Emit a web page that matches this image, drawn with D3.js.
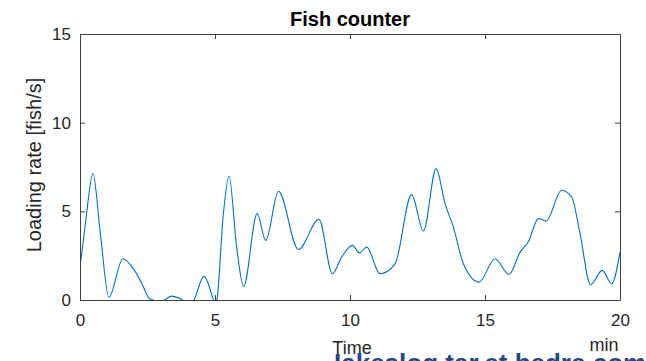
<!DOCTYPE html>
<html>
<head>
<meta charset="utf-8">
<script src="https://cdn.jsdelivr.net/npm/d3@7"></script>
<style>
  body { margin: 0; background: #fff; overflow: hidden; }
  text { font-family: "Liberation Sans", Arial, sans-serif; }
</style>
</head>
<body>
<div id="chart"></div>
<script>
// values (time in min, loading rate in fish/s)
const times = [0, 0.2, 0.48, 0.75, 1.07, 1.59, 2.02, 2.3, 2.58, 2.9, 3.15, 3.38, 3.65, 3.9, 4.05, 4.2,
  4.59, 4.93, 5.0, 5.08, 5.3, 5.52, 5.8, 6.06, 6.56, 6.88, 7.35, 8.09, 8.85, 9.35, 9.69, 10.09, 10.35,
  10.62, 11.11, 11.67, 12.28, 12.72, 13.19, 13.52, 13.83, 14.2, 14.78, 15.37, 15.89, 16.3, 16.6,
  16.98, 17.26, 17.84, 18.21, 18.52, 18.91, 19.34, 19.69, 20];
const rates = [1.85, 4.3, 7.13, 3.8, 0.16, 2.33, 1.67, 0.9, 0.07, -0.05, 0.02, 0.22, 0.12, -0.1, -0.2, -0.05,
  1.33, 0.05, -0.3, 0.1, 4.7, 6.98, 3.0, 0.76, 4.87, 3.36, 6.13, 2.85, 4.55, 1.48, 2.42, 3.08, 2.66,
  2.98, 1.48, 2.04, 5.94, 3.89, 7.41, 5.43, 4.11, 2.04, 1.01, 2.33, 1.44, 2.7, 3.27,
  4.59, 4.45, 6.19, 5.81, 3.74, 0.86, 1.67, 0.92, 2.7];
const xTicks = [0, 5, 10, 15, 20];
const yTicks = [0, 5, 10, 15];

const width = 646, height = 361;
const margin = {top: 34, right: 26, bottom: 61, left: 80};
const w = width - margin.left - margin.right;
const h = height - margin.top - margin.bottom;
const axisColor = '#404040';

const svg = d3.select('#chart').append('svg')
    .attr('width', width)
    .attr('height', height);

const g = svg.append('g')
    .attr('transform', `translate(${margin.left},${margin.top})`);

const x = d3.scaleLinear().domain([0, 20]).range([0, w]);
const y = d3.scaleLinear().domain([0, 15]).range([h, 0]);

svg.append('clipPath').attr('id', 'plotclip')
  .append('rect').attr('width', w).attr('height', h);

const data = times.map((t, i) => ({t: t, v: rates[i]}));

const line = d3.line()
    .x(d => x(d.t))
    .y(d => y(d.v))
    .curve(d3.curveMonotoneX);

g.append('path')
    .datum(data)
    .attr('clip-path', 'url(#plotclip)')
    .attr('fill', 'none')
    .attr('stroke', '#0072BD')
    .attr('stroke-width', 1.1)
    .attr('d', line);

// axes, matlab style: ticks inside on all four sides
function styleAxis(sel) {
  sel.select('.domain').attr('stroke', axisColor);
  sel.selectAll('.tick line').attr('stroke', axisColor);
  sel.selectAll('.tick text').attr('fill', '#262626').style('font-size', '17px');
}

g.append('g')
    .attr('transform', `translate(0,${h})`)
    .call(d3.axisBottom(x).tickValues(xTicks).tickSize(-5).tickSizeOuter(0).tickPadding(14))
    .call(styleAxis);

g.append('g')
    .call(d3.axisLeft(y).tickValues(yTicks).tickSize(-5).tickSizeOuter(0).tickPadding(9))
    .call(styleAxis);

g.append('g')
    .call(d3.axisTop(x).tickValues(xTicks).tickSize(-5).tickSizeOuter(0).tickFormat(''))
    .call(styleAxis);

g.append('g')
    .attr('transform', `translate(${w},0)`)
    .call(d3.axisRight(y).tickValues(yTicks).tickSize(-5).tickSizeOuter(0).tickFormat(''))
    .call(styleAxis);

// title and labels
svg.append('text')
    .attr('x', margin.left + w / 2)
    .attr('y', 26)
    .attr('text-anchor', 'middle')
    .style('font-size', '20px')
    .style('font-weight', 'bold')
    .attr('fill', '#000')
    .text('Fish counter');

svg.append('text')
    .attr('transform', `translate(41,${margin.top + h / 2 - 2}) rotate(-90)`)
    .attr('text-anchor', 'middle')
    .style('font-size', '20px')
    .attr('fill', '#262626')
    .text('Loading rate [fish/s]');

svg.append('text')
    .attr('x', margin.left + w / 2 + 2)
    .attr('y', 354)
    .attr('text-anchor', 'middle')
    .style('font-size', '18px')
    .attr('fill', '#262626')
    .text('Time');

svg.append('text')
    .attr('x', 604)
    .attr('y', 351)
    .attr('text-anchor', 'middle')
    .style('font-size', '18px')
    .attr('fill', '#262626')
    .text('min');

// watermark cut off at the bottom edge
svg.append('text')
    .attr('x', 334)
    .attr('y', 372)
    .style('font-size', '26px')
    .style('font-weight', 'bold')
    .attr('fill', '#1d4a85')
    .text('Iakeslog.tar.et.bedre.com');
</script>
</body>
</html>
